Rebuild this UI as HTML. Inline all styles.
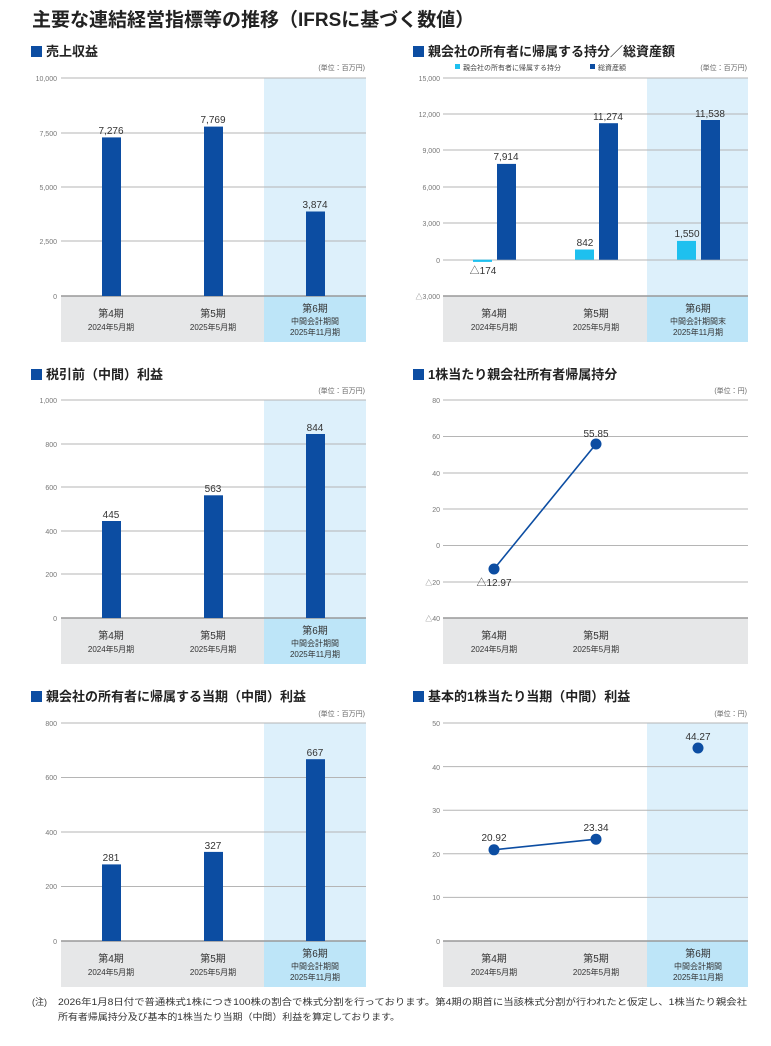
<!DOCTYPE html>
<html><head><meta charset="utf-8"><style>
html,body{margin:0;padding:0;background:#fff;}
svg{display:block;font-family:"Liberation Sans","Noto Sans CJK JP",sans-serif;}
.h{font-size:13px;font-weight:bold;fill:#222;}
.t{font-size:7px;fill:#777;text-anchor:end;}
.u{font-size:7px;fill:#666;text-anchor:end;}
.v{font-size:10px;fill:#333;text-anchor:middle;}
.c1{font-size:10px;fill:#333;text-anchor:middle;}
.c2{font-size:8px;fill:#333;text-anchor:middle;}
.g{stroke:#b5b5b5;stroke-width:1;}
.z{stroke:#999;stroke-width:1.5;}
</style></head><body>
<svg width="771" height="1046" viewBox="0 0 771 1046">
<text x="32" y="26" style="font-size:19px;font-weight:bold;fill:#222">主要な連結経営指標等の推移（IFRSに基づく数値）</text>

<!-- Panel 1 -->
<rect x="31" y="46" width="11" height="11" fill="#0c4da2"/><text x="46" y="56" class="h">売上収益</text>
<text x="365" y="70" class="u">(単位：百万円)</text>
<rect x="264" y="78" width="102" height="218" fill="#ddf0fb"/>
<rect x="61" y="296" width="203" height="46" fill="#e6e7e8"/><rect x="264" y="296" width="102" height="46" fill="#bde5f8"/>
<line x1="61" y1="78" x2="366" y2="78" class="g"/><line x1="61" y1="133" x2="366" y2="133" class="g"/><line x1="61" y1="187" x2="366" y2="187" class="g"/><line x1="61" y1="241" x2="366" y2="241" class="g"/><line x1="61" y1="296" x2="366" y2="296" class="z"/>
<text x="57" y="81" class="t">10,000</text><text x="57" y="136" class="t">7,500</text><text x="57" y="190" class="t">5,000</text><text x="57" y="244" class="t">2,500</text><text x="57" y="299" class="t">0</text>
<rect x="102" y="137.4" width="19" height="158.6" fill="#0c4da2"/><rect x="204" y="126.6" width="19" height="169.4" fill="#0c4da2"/><rect x="306" y="211.5" width="19" height="84.5" fill="#0c4da2"/>
<text x="111" y="134" class="v">7,276</text><text x="213" y="123" class="v">7,769</text><text x="315" y="208" class="v">3,874</text>
<text x="111" y="317" class="c1">第4期</text><text x="111" y="330" class="c2">2024年5月期</text>
<text x="213" y="317" class="c1">第5期</text><text x="213" y="330" class="c2">2025年5月期</text>
<text x="315" y="312" class="c1">第6期</text><text x="315" y="324" class="c2">中間会計期間</text><text x="315" y="335" class="c2">2025年11月期</text>

<!-- Panel 2 -->
<rect x="413" y="46" width="11" height="11" fill="#0c4da2"/><text x="428" y="56" class="h">親会社の所有者に帰属する持分／総資産額</text>
<rect x="455" y="64" width="5" height="5" fill="#1ec0ef"/><text x="463" y="70" style="font-size:7px;fill:#444">親会社の所有者に帰属する持分</text>
<rect x="590" y="64" width="5" height="5" fill="#0c4da2"/><text x="598" y="70" style="font-size:7px;fill:#444">総資産額</text>
<text x="747" y="70" class="u">(単位：百万円)</text>
<rect x="647" y="78" width="101" height="218" fill="#ddf0fb"/>
<rect x="443" y="296" width="204" height="46" fill="#e6e7e8"/><rect x="647" y="296" width="101" height="46" fill="#bde5f8"/>
<line x1="443" y1="78" x2="748" y2="78" class="g"/><line x1="443" y1="114" x2="748" y2="114" class="g"/><line x1="443" y1="150" x2="748" y2="150" class="g"/><line x1="443" y1="187" x2="748" y2="187" class="g"/><line x1="443" y1="223" x2="748" y2="223" class="g"/><line x1="443" y1="260" x2="748" y2="260" class="g"/><line x1="443" y1="296" x2="748" y2="296" class="z"/>
<text x="440" y="81" class="t">15,000</text><text x="440" y="117" class="t">12,000</text><text x="440" y="153" class="t">9,000</text><text x="440" y="190" class="t">6,000</text><text x="440" y="226" class="t">3,000</text><text x="440" y="263" class="t">0</text><text x="440" y="299" class="t">△3,000</text>
<rect x="473" y="259.7" width="19" height="2.2" fill="#1ec0ef"/><rect x="497" y="163.9" width="19" height="95.8" fill="#0c4da2"/>
<rect x="575" y="249.5" width="19" height="10.2" fill="#1ec0ef"/><rect x="599" y="123.2" width="19" height="136.5" fill="#0c4da2"/>
<rect x="677" y="240.9" width="19" height="18.8" fill="#1ec0ef"/><rect x="701" y="120" width="19" height="139.7" fill="#0c4da2"/>
<text x="483" y="274" class="v">△174</text><text x="506" y="160" class="v">7,914</text>
<text x="585" y="246" class="v">842</text><text x="608" y="120" class="v">11,274</text>
<text x="687" y="237" class="v">1,550</text><text x="710" y="117" class="v">11,538</text>
<text x="494" y="317" class="c1">第4期</text><text x="494" y="330" class="c2">2024年5月期</text>
<text x="596" y="317" class="c1">第5期</text><text x="596" y="330" class="c2">2025年5月期</text>
<text x="698" y="312" class="c1">第6期</text><text x="698" y="324" class="c2">中間会計期間末</text><text x="698" y="335" class="c2">2025年11月期</text>

<!-- Panel 3 -->
<rect x="31" y="369" width="11" height="11" fill="#0c4da2"/><text x="46" y="379" class="h">税引前（中間）利益</text>
<text x="365" y="393" class="u">(単位：百万円)</text>
<rect x="264" y="400" width="102" height="218" fill="#ddf0fb"/>
<rect x="61" y="618" width="203" height="46" fill="#e6e7e8"/><rect x="264" y="618" width="102" height="46" fill="#bde5f8"/>
<line x1="61" y1="400" x2="366" y2="400" class="g"/><line x1="61" y1="444" x2="366" y2="444" class="g"/><line x1="61" y1="487" x2="366" y2="487" class="g"/><line x1="61" y1="531" x2="366" y2="531" class="g"/><line x1="61" y1="574" x2="366" y2="574" class="g"/><line x1="61" y1="618" x2="366" y2="618" class="z"/>
<text x="57" y="403" class="t">1,000</text><text x="57" y="447" class="t">800</text><text x="57" y="490" class="t">600</text><text x="57" y="534" class="t">400</text><text x="57" y="577" class="t">200</text><text x="57" y="621" class="t">0</text>
<rect x="102" y="521" width="19" height="97" fill="#0c4da2"/><rect x="204" y="495.3" width="19" height="122.7" fill="#0c4da2"/><rect x="306" y="434" width="19" height="184" fill="#0c4da2"/>
<text x="111" y="518" class="v">445</text><text x="213" y="492" class="v">563</text><text x="315" y="431" class="v">844</text>
<text x="111" y="639" class="c1">第4期</text><text x="111" y="652" class="c2">2024年5月期</text>
<text x="213" y="639" class="c1">第5期</text><text x="213" y="652" class="c2">2025年5月期</text>
<text x="315" y="634" class="c1">第6期</text><text x="315" y="646" class="c2">中間会計期間</text><text x="315" y="657" class="c2">2025年11月期</text>

<!-- Panel 4 -->
<rect x="413" y="369" width="11" height="11" fill="#0c4da2"/><text x="428" y="379" class="h">1株当たり親会社所有者帰属持分</text>
<text x="747" y="393" class="u">(単位：円)</text>
<rect x="443" y="618" width="305" height="46" fill="#e6e7e8"/>
<line x1="443" y1="400" x2="748" y2="400" class="g"/><line x1="443" y1="436.5" x2="748" y2="436.5" class="g"/><line x1="443" y1="473" x2="748" y2="473" class="g"/><line x1="443" y1="509" x2="748" y2="509" class="g"/><line x1="443" y1="545.5" x2="748" y2="545.5" class="g"/><line x1="443" y1="582" x2="748" y2="582" class="g"/><line x1="443" y1="618" x2="748" y2="618" class="z"/>
<text x="440" y="403" class="t">80</text><text x="440" y="439" class="t">60</text><text x="440" y="476" class="t">40</text><text x="440" y="512" class="t">20</text><text x="440" y="548" class="t">0</text><text x="440" y="585" class="t">△20</text><text x="440" y="621" class="t">△40</text>
<line x1="494" y1="569" x2="596" y2="444" stroke="#0c4da2" stroke-width="1.6"/>
<circle cx="494" cy="569" r="5.5" fill="#0c4da2"/><circle cx="596" cy="444" r="5.5" fill="#0c4da2"/>
<text x="494" y="586" class="v">△12.97</text><text x="596" y="437" class="v">55.85</text>
<text x="494" y="639" class="c1">第4期</text><text x="494" y="652" class="c2">2024年5月期</text>
<text x="596" y="639" class="c1">第5期</text><text x="596" y="652" class="c2">2025年5月期</text>

<!-- Panel 5 -->
<rect x="31" y="691" width="11" height="11" fill="#0c4da2"/><text x="46" y="701" class="h">親会社の所有者に帰属する当期（中間）利益</text>
<text x="365" y="716" class="u">(単位：百万円)</text>
<rect x="264" y="723" width="102" height="218" fill="#ddf0fb"/>
<rect x="61" y="941" width="203" height="46" fill="#e6e7e8"/><rect x="264" y="941" width="102" height="46" fill="#bde5f8"/>
<line x1="61" y1="723" x2="366" y2="723" class="g"/><line x1="61" y1="777.5" x2="366" y2="777.5" class="g"/><line x1="61" y1="832" x2="366" y2="832" class="g"/><line x1="61" y1="886.5" x2="366" y2="886.5" class="g"/><line x1="61" y1="941" x2="366" y2="941" class="z"/>
<text x="57" y="726" class="t">800</text><text x="57" y="780" class="t">600</text><text x="57" y="835" class="t">400</text><text x="57" y="889" class="t">200</text><text x="57" y="944" class="t">0</text>
<rect x="102" y="864.4" width="19" height="76.6" fill="#0c4da2"/><rect x="204" y="851.9" width="19" height="89.1" fill="#0c4da2"/><rect x="306" y="759.2" width="19" height="181.8" fill="#0c4da2"/>
<text x="111" y="861" class="v">281</text><text x="213" y="849" class="v">327</text><text x="315" y="756" class="v">667</text>
<text x="111" y="962" class="c1">第4期</text><text x="111" y="975" class="c2">2024年5月期</text>
<text x="213" y="962" class="c1">第5期</text><text x="213" y="975" class="c2">2025年5月期</text>
<text x="315" y="957" class="c1">第6期</text><text x="315" y="969" class="c2">中間会計期間</text><text x="315" y="980" class="c2">2025年11月期</text>

<!-- Panel 6 -->
<rect x="413" y="691" width="11" height="11" fill="#0c4da2"/><text x="428" y="701" class="h">基本的1株当たり当期（中間）利益</text>
<text x="747" y="716" class="u">(単位：円)</text>
<rect x="647" y="723" width="101" height="218" fill="#ddf0fb"/>
<rect x="443" y="941" width="204" height="46" fill="#e6e7e8"/><rect x="647" y="941" width="101" height="46" fill="#bde5f8"/>
<line x1="443" y1="723" x2="748" y2="723" class="g"/><line x1="443" y1="766.6" x2="748" y2="766.6" class="g"/><line x1="443" y1="810.2" x2="748" y2="810.2" class="g"/><line x1="443" y1="853.8" x2="748" y2="853.8" class="g"/><line x1="443" y1="897.4" x2="748" y2="897.4" class="g"/><line x1="443" y1="941" x2="748" y2="941" class="z"/>
<text x="440" y="726" class="t">50</text><text x="440" y="770" class="t">40</text><text x="440" y="813" class="t">30</text><text x="440" y="857" class="t">20</text><text x="440" y="900" class="t">10</text><text x="440" y="944" class="t">0</text>
<line x1="494" y1="849.8" x2="596" y2="839.2" stroke="#0c4da2" stroke-width="1.6"/>
<circle cx="494" cy="849.8" r="5.5" fill="#0c4da2"/><circle cx="596" cy="839.2" r="5.5" fill="#0c4da2"/><circle cx="698" cy="748" r="5.5" fill="#0c4da2"/>
<text x="494" y="841" class="v">20.92</text><text x="596" y="831" class="v">23.34</text><text x="698" y="740" class="v">44.27</text>
<text x="494" y="962" class="c1">第4期</text><text x="494" y="975" class="c2">2024年5月期</text>
<text x="596" y="962" class="c1">第5期</text><text x="596" y="975" class="c2">2025年5月期</text>
<text x="698" y="957" class="c1">第6期</text><text x="698" y="969" class="c2">中間会計期間</text><text x="698" y="980" class="c2">2025年11月期</text>

<!-- Footnote -->
<text x="32" y="1005" style="font-size:9px;fill:#333">(注)</text>
<text x="58" y="1005" style="font-size:9px;fill:#333" textLength="689" lengthAdjust="spacingAndGlyphs">2026年1月8日付で普通株式1株につき100株の割合で株式分割を行っております。第4期の期首に当該株式分割が行われたと仮定し、1株当たり親会社</text>
<text x="58" y="1020" style="font-size:9px;fill:#333" textLength="342" lengthAdjust="spacingAndGlyphs">所有者帰属持分及び基本的1株当たり当期（中間）利益を算定しております。</text>
</svg>
</body></html>
